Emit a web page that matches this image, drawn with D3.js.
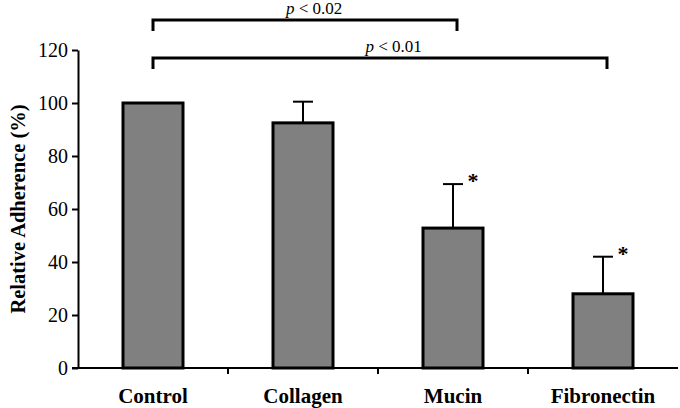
<!DOCTYPE html>
<html>
<head>
<meta charset="utf-8">
<script src="https://cdn.jsdelivr.net/npm/d3@7"></script>
<style>
	body { margin: 0; background: #fff; }
	svg text { font-family: "Liberation Serif", "Times New Roman", "DejaVu Serif", serif; }
</style>
</head>
<body>
<div id="chart"></div>
<script>
// data
const categories = ["Control", "Collagen", "Mucin", "Fibronectin"];
const means = [100, 92.5, 52.8, 28];
const errors = [0, 8, 16.6, 14];
const starred = [false, false, true, true];
const yTicks = [0, 20, 40, 60, 80, 100, 120];
const comparisons = [
	{from: "Control", to: "Mucin", label: "0.02", level: 0},
	{from: "Control", to: "Fibronectin", label: "0.01", level: 1}
];

const width = 680, height = 408;
const margin = {left: 78, right: 2, top: 50, bottom: 40};
const serif = '"Liberation Serif", "Times New Roman", "DejaVu Serif", serif';

const svg = d3.select("#chart").append("svg")
	.attr("width", width)
	.attr("height", height)
	.style("font-family", serif);

const x = d3.scaleBand()
	.domain(categories)
	.range([margin.left, width - margin.right])
	.paddingInner(0.6)
	.paddingOuter(0.3);

const y = d3.scaleLinear()
	.domain([0, 120])
	.range([height - margin.bottom, margin.top]);

const cx = c => x(c) + x.bandwidth() / 2;

// y axis
const yAxis = svg.append("g")
	.attr("transform", `translate(${margin.left},0)`)
	.call(d3.axisLeft(y).tickValues(yTicks).tickSize(6).tickPadding(4).tickSizeOuter(0))
	.attr("font-family", serif)
	.attr("font-size", 20);
yAxis.select(".domain").attr("stroke-width", 2);
yAxis.selectAll(".tick line").attr("stroke-width", 2);
yAxis.selectAll(".tick text").attr("fill", "#000");

// x axis with ticks between categories
const xg = svg.append("g").attr("transform", `translate(0,${y(0)})`);
xg.append("line")
	.attr("x1", margin.left - 6).attr("x2", width - margin.right)
	.attr("stroke", "#000").attr("stroke-width", 2);
const step = x.step();
xg.selectAll(".sep")
	.data(categories.slice(1)).enter()
	.append("line")
	.attr("x1", d => x(d) - step * 0.3).attr("x2", d => x(d) - step * 0.3)
	.attr("y1", 0).attr("y2", 6)
	.attr("stroke", "#000").attr("stroke-width", 2);
xg.selectAll("text")
	.data(categories).enter()
	.append("text")
	.attr("x", d => cx(d))
	.attr("y", 35)
	.attr("text-anchor", "middle")
	.attr("font-size", 21)
	.attr("font-weight", "bold")
	.text(d => d);

// y label
svg.append("text")
	.attr("transform", `translate(25,${(y(0) + y(120)) / 2}) rotate(-90)`)
	.attr("text-anchor", "middle")
	.attr("font-size", 20.5)
	.attr("font-weight", "bold")
	.text("Relative Adherence (%)");

// error bars (drawn under bars)
const eg = svg.append("g").attr("stroke", "#000").attr("stroke-width", 2);
categories.forEach((c, i) => {
	if (!errors[i]) return;
	eg.append("line")
		.attr("x1", cx(c)).attr("x2", cx(c))
		.attr("y1", y(means[i])).attr("y2", y(means[i] + errors[i]));
	eg.append("line")
		.attr("x1", cx(c) - 10).attr("x2", cx(c) + 10)
		.attr("y1", y(means[i] + errors[i])).attr("y2", y(means[i] + errors[i]));
});

// bars
svg.append("g")
	.selectAll("rect")
	.data(categories).enter()
	.append("rect")
	.attr("x", d => x(d))
	.attr("y", (d, i) => y(means[i]))
	.attr("width", x.bandwidth())
	.attr("height", (d, i) => y(0) - y(means[i]))
	.attr("fill", "#808080")
	.attr("stroke", "#000")
	.attr("stroke-width", 3);

// asterisks
svg.append("g")
	.selectAll("text")
	.data(categories.filter((c, i) => starred[i])).enter()
	.append("text")
	.attr("x", d => cx(d) + 20)
	.attr("y", d => y(means[categories.indexOf(d)] + errors[categories.indexOf(d)]) + 4)
	.attr("text-anchor", "middle")
	.attr("font-size", 22)
	.attr("font-weight", "bold")
	.text("*");

// significance brackets
const levels = [20, 58];
comparisons.forEach(cmp => {
	const x1 = cx(cmp.from), x2 = cx(cmp.to) + 4, by = levels[cmp.level];
	svg.append("path")
		.attr("d", `M${x1},${by + 11}V${by}H${x2}V${by + 11}`)
		.attr("fill", "none")
		.attr("stroke", "#000")
		.attr("stroke-width", 3);
	const t = svg.append("text")
		.attr("x", x1 + (x2 - x1) * 0.53)
		.attr("y", by - 6)
		.attr("text-anchor", "middle")
		.attr("font-size", 17);
	t.append("tspan").attr("font-style", "italic").text("p");
	t.append("tspan").text(" < " + cmp.label);
});
</script>
</body>
</html>
